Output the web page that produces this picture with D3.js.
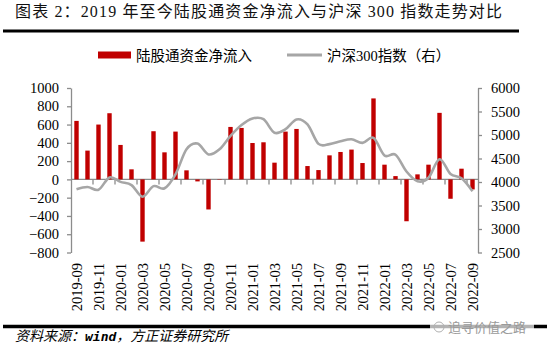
<!DOCTYPE html>
<html>
<head>
<meta charset="utf-8">
<script src="https://cdn.jsdelivr.net/npm/d3@7"></script>
<style>
  html, body { margin:0; padding:0; background:#fff; }
  svg { display:block; }
  .axis path, .axis line { stroke:#8c8c8c; stroke-width:1.3; }
  .axis text { font-family:"Liberation Serif", "Times New Roman", serif; font-size:14.5px; fill:#000; }
</style>
</head>
<body>
<svg id="chart" width="550" height="351"></svg>
<script>
const months = [
  "2019-09","2019-10","2019-11","2019-12","2020-01","2020-02","2020-03","2020-04","2020-05","2020-06",
  "2020-07","2020-08","2020-09","2020-10","2020-11","2020-12","2021-01","2021-02","2021-03","2021-04",
  "2021-05","2021-06","2021-07","2021-08","2021-09","2021-10","2021-11","2021-12","2022-01","2022-02",
  "2022-03","2022-04","2022-05","2022-06","2022-07","2022-08","2022-09"
];

// 陆股通资金净流入 (亿元)
const inflow = [
  640, 315, 600, 724, 377, 110, -681, 527, 296, 523,
  99, -22, -329, 4, 574, 563, 398, 406, 183, 523,
  552, 146, 102, 263, 300, 326, 179, 886, 161, 36,
  -458, 55, 161, 728, -212, 117, -110
];

// 沪深300指数 (右轴)
const csi300 = [
  3845, 3895, 3835, 4097, 4003, 3935, 3686, 3912, 3867, 4164,
  4695, 4817, 4587, 4695, 4980, 5211, 5352, 5336, 5048, 5123,
  5332, 5224, 4811, 4806, 4866, 4908, 4833, 4940, 4564, 4581,
  4223, 4016, 4091, 4485, 4170, 4079, 3804
];

const leftTicks = [-800,-600,-400,-200,0,200,400,600,800,1000];
const rightTicks = [2500,3000,3500,4000,4500,5000,5500,6000];

const RED = "#c00000";
const GREY = "#a6a6a6";

const svg = d3.select("#chart");

const x = d3.scaleBand()
  .domain(months)
  .range([71,478]);

const yL = d3.scaleLinear()
  .domain([-800,1000])
  .range([252.5,88]);

const yR = d3.scaleLinear()
  .domain([2500,6000])
  .range([252.5,88]);

const barW = 4.4;

// title
svg.append("text")
  .attr("x",15)
  .attr("y",17)
  .attr("font-family","'Liberation Serif', 'Noto Sans CJK SC', serif")
  .attr("font-size",16)
  .attr("fill","#111")
  .attr("textLength",487)
  .attr("lengthAdjust","spacing")
  .text("图表 2：2019 年至今陆股通资金净流入与沪深 300 指数走势对比");

svg.append("line")
  .attr("x1",3).attr("x2",519)
  .attr("y1",31).attr("y2",31)
  .attr("stroke","#000")
  .attr("stroke-width",3);

// legend
svg.append("rect")
  .attr("x",98).attr("y",51.5)
  .attr("width",33).attr("height",7)
  .attr("fill",RED);

svg.append("text")
  .attr("x",136).attr("y",60.5)
  .attr("font-family","'Noto Sans CJK SC', sans-serif")
  .attr("font-size",14.5)
  .attr("fill","#000")
  .text("陆股通资金净流入");

svg.append("line")
  .attr("x1",287).attr("x2",322)
  .attr("y1",55).attr("y2",55)
  .attr("stroke",GREY)
  .attr("stroke-width",3);

svg.append("text")
  .attr("x",327).attr("y",60.5)
  .attr("font-family","'Liberation Serif', 'Noto Sans CJK SC', serif")
  .attr("font-size",14.5)
  .attr("fill","#000")
  .text("沪深300指数（右）");

// axes
svg.append("g")
  .attr("class","axis")
  .attr("transform","translate(71,0)")
  .call(d3.axisLeft(yL).tickValues(leftTicks).tickFormat(d3.format("d")).tickSize(4).tickSizeOuter(0).tickPadding(8));

svg.append("g")
  .attr("class","axis")
  .attr("transform","translate(478,0)")
  .call(d3.axisRight(yR).tickValues(rightTicks).tickFormat(d3.format("d")).tickSize(4).tickSizeOuter(0).tickPadding(9));

// category line at zero with ticks between every two months
const everyOther = months.filter((d,i)=>i%2===0);

svg.append("line")
  .attr("x1",71).attr("x2",478)
  .attr("y1",yL(0)).attr("y2",yL(0))
  .attr("stroke","#8c8c8c")
  .attr("stroke-width",1.3);

svg.append("g")
  .selectAll("line")
  .data(everyOther.slice(1))
  .join("line")
  .attr("x1",d=>x(d)).attr("x2",d=>x(d))
  .attr("y1",yL(0)).attr("y2",yL(0)+5)
  .attr("stroke","#8c8c8c")
  .attr("stroke-width",1.3);

// bars
svg.append("g")
  .selectAll("rect")
  .data(months.map((m,i)=>({m, v:inflow[i]})))
  .join("rect")
  .attr("x",d=>x(d.m)+(x.bandwidth()-barW)/2)
  .attr("y",d=>Math.min(yL(d.v),yL(0)))
  .attr("width",barW)
  .attr("height",d=>Math.abs(yL(d.v)-yL(0)))
  .attr("fill",RED);

// index line
const line = d3.line()
  .x((d,i)=>x(months[i])+x.bandwidth()/2)
  .y(d=>yR(d))
  .curve(d3.curveCardinal.tension(0));

svg.append("path")
  .datum(csi300)
  .attr("d",line)
  .attr("fill","none")
  .attr("stroke",GREY)
  .attr("stroke-width",2.6);

// month labels
const xl = svg.append("g")
  .attr("class","axis")
  .attr("transform","translate(0,263)")
  .call(d3.axisBottom(x).tickValues(everyOther).tickSize(0));

xl.select(".domain").remove();
xl.selectAll("text")
  .attr("transform","rotate(-90)")
  .attr("text-anchor","end")
  .attr("x",0)
  .attr("y",0)
  .attr("dy","0.35em");

// footer
svg.append("line")
  .attr("x1",3).attr("x2",547)
  .attr("y1",326.5).attr("y2",326.5)
  .attr("stroke","#000")
  .attr("stroke-width",3.5);

const foot = svg.append("text")
  .attr("x",15).attr("y",341)
  .attr("font-family","'Noto Sans CJK SC', sans-serif")
  .attr("font-size",14)
  .attr("font-style","italic")
  .attr("fill","#000");
foot.append("tspan").text("资料来源：");
foot.append("tspan")
  .attr("font-family","'DejaVu Sans Mono', monospace")
  .attr("font-weight","bold")
  .attr("font-size",13)
  .text("wind");
foot.append("tspan").text("，方正证券研究所");

// watermark
svg.append("rect")
  .attr("x",430).attr("y",320)
  .attr("width",104).attr("height",14)
  .attr("fill","#fff")
  .attr("opacity",0.7);

svg.append("circle")
  .attr("cx",439).attr("cy",327)
  .attr("r",5)
  .attr("fill","none")
  .attr("stroke","#b0b0b0")
  .attr("stroke-width",1);

svg.append("text")
  .attr("x",448).attr("y",332)
  .attr("font-family","'Noto Sans CJK SC', sans-serif")
  .attr("font-size",13)
  .attr("fill","#9a9a9a")
  .text("追寻价值之路");
</script>
</body>
</html>
